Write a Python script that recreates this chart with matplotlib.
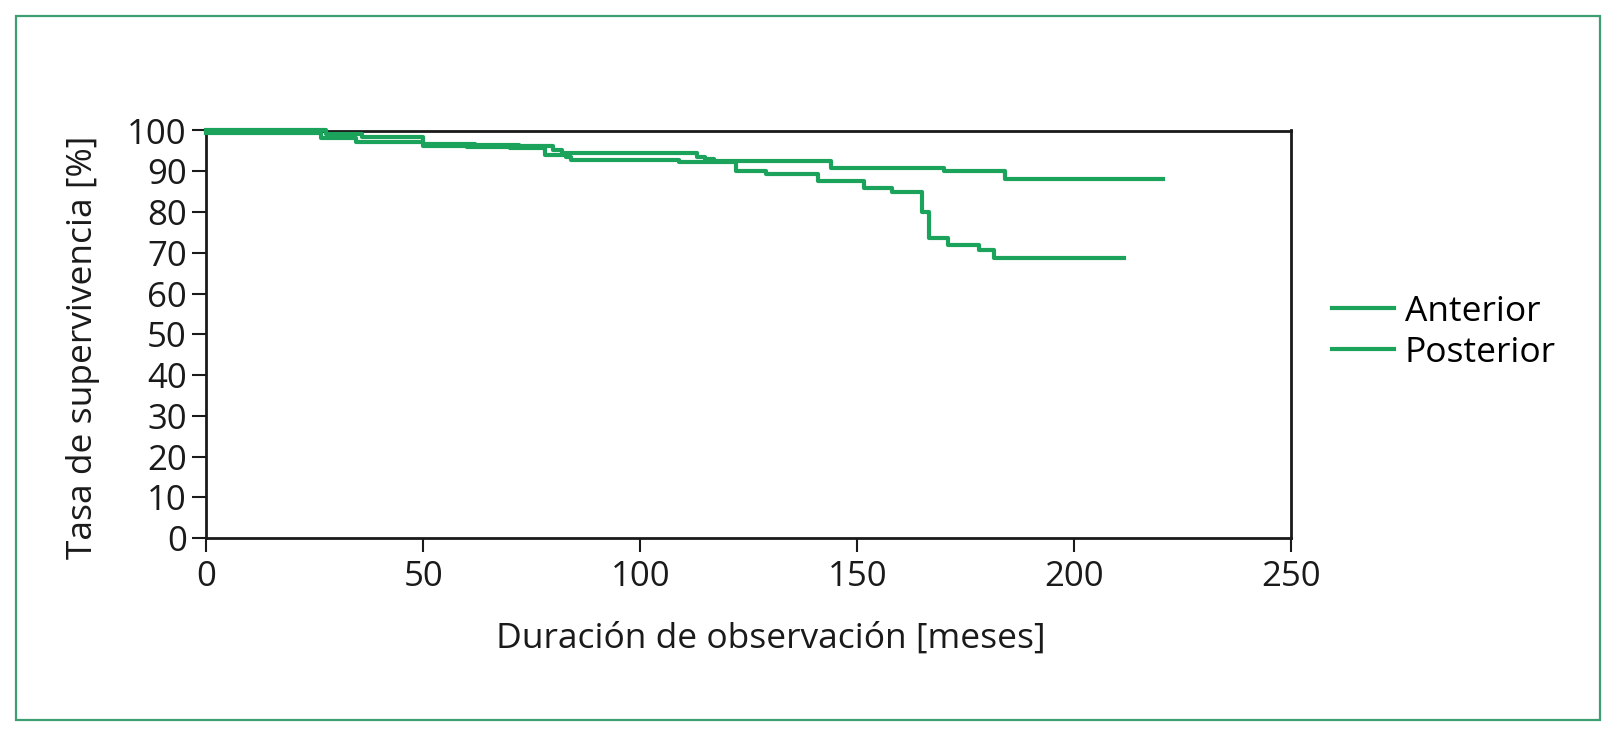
import matplotlib
matplotlib.use("Agg")
import matplotlib.pyplot as plt
from matplotlib.patches import Rectangle

# Kaplan-Meier style survival curves
anterior_t = [0, 27.5, 36, 50, 62, 72, 80, 82, 113, 115, 117, 144, 170, 184, 220.5]
anterior_s = [100, 99.2, 98.4, 96.8, 96.4, 96.1, 95.2, 94.4, 93.6, 93.0, 92.4, 90.9, 90.0, 88.2, 88.2]

posterior_t = [0, 26.5, 34.5, 50, 60, 70, 78, 83, 84, 109, 122, 129, 141, 151.5,
               158, 165, 166.5, 171, 178, 181.5, 211.5]
posterior_s = [99.3, 98.2, 97.2, 96.3, 96.0, 95.8, 94.0, 93.4, 92.7, 92.3, 90.0, 89.4,
               87.5, 86.0, 84.8, 80.0, 73.7, 72.0, 70.8, 68.6, 68.6]

x_ticks = [0, 50, 100, 150, 200, 250]
y_ticks = list(range(0, 101, 10))

green = "#1ba35c"
ink = '#1a1a1a'

plt.rcParams['font.family'] = ['Open Sans', 'DejaVu Sans']

fig = plt.figure(figsize=(16.2, 7.5), dpi=100)
ax = fig.add_axes([0.1273, 0.2826, 0.6697, 0.5434])

# outer frame of the figure
fig.patches.append(Rectangle((0.0097, 0.04), 0.978, 0.939, transform=fig.transFigure,
                             fill=False, edgecolor="#3d9e72", linewidth=1.6))

ax.step(anterior_t, anterior_s, where='post', color=green, linewidth=3.0, label='Anterior',
        clip_on=False, zorder=3)
ax.step(posterior_t, posterior_s, where='post', color=green, linewidth=3.0, label='Posterior',
        clip_on=False, zorder=3)

ax.set_xlim(0, 250)
ax.set_ylim(0, 100)
ax.set_xticks(x_ticks)
ax.set_yticks(y_ticks)
ax.tick_params(axis='both', direction='out', length=10, width=1.5, labelsize=25,
               colors=ink, pad=4)
ax.tick_params(axis='x', pad=6)
for sp in ax.spines.values():
    sp.set_linewidth(2)
    sp.set_color(ink)

ax.set_xlabel('Duración de observación [meses]', fontsize=25.5, color=ink)
ax.set_ylabel('Tasa de supervivencia [%]', fontsize=25.5, color=ink)
# labels sit a little off-centre in the original
ax.xaxis.set_label_coords(0.52, -0.205)
ax.yaxis.set_label_coords(-0.098, 0.467)

ax.legend(loc='center left', bbox_to_anchor=(1.038, 0.505), frameon=False, fontsize=25.5,
          handlelength=1.75, handletextpad=0.3, labelspacing=0.2, borderpad=0,
          borderaxespad=0)

fig.savefig('out.png', dpi=100)
